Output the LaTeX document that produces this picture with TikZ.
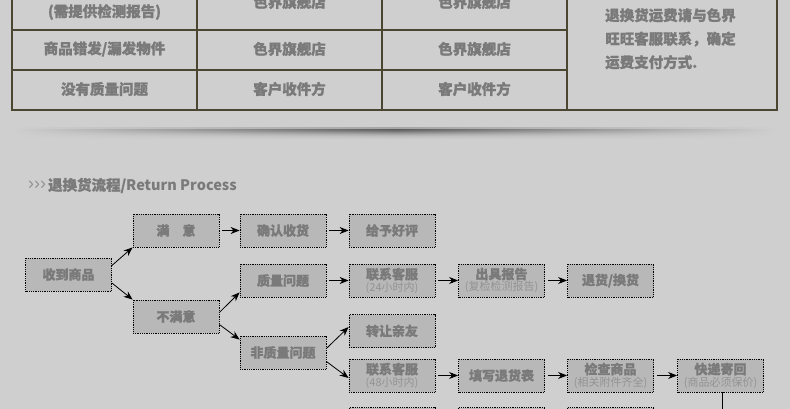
\documentclass[tikz,border=0pt]{standalone}
\usepackage{fontspec}
\setmainfont{Liberation Sans}
\newfontfamily\cjk{Noto Sans CJK SC}[BoldFeatures={FakeBold=1.2}]
\usepackage{tikz}
\usetikzlibrary{arrows.meta}
\usetikzlibrary{fadings}
\definecolor{bggray}{HTML}{CFCFCF}
\definecolor{boxgray}{HTML}{B8B8B8}
\definecolor{txtgray}{HTML}{7A7A7A}
\definecolor{subgray}{HTML}{939393}
\definecolor{rulebrown}{HTML}{4A4632}
\tikzfading[name=fade sides, left color=transparent!100, right color=transparent!100, middle color=transparent!0]
\tikzset{
  flowbox/.style={draw=black, densely dotted, line width=0.8pt, fill=boxgray,
    minimum width=86pt, minimum height=33pt, inner sep=0pt, align=center,
    text=txtgray, font=\cjk\bfseries\fontsize{13}{13.5}\selectfont},
  flowarrow/.style={-{Stealth[length=9pt,width=7pt]}, line width=0.8pt},
  cell/.style={text=txtgray, font=\cjk\bfseries\fontsize{14.5}{16}\selectfont},
  tablerule/.style={rulebrown, line width=1.3pt},
}
\newcommand{\subline}[1]{\\[-1.5pt]{\mdseries\fontsize{11}{12}\selectfont\color{subgray}#1}}
\begin{document}
\begin{tikzpicture}[x=1pt,y=-1pt]
        \useasboundingbox (0,0) rectangle (790,409);
        \fill[bggray] (0,0) rectangle (790,409);
        % table
        \draw[tablerule] (12,0) -- (12,110) -- (777,110) -- (777,0);
        \draw[tablerule] (197,0) -- (197,110) (382,0) -- (382,110) (567,0) -- (567,110);
        \draw[tablerule] (12,30) -- (567,30) (12,70) -- (567,70);
        \node[cell] (r1c1) at (104.5,12) {(需提供检测报告)};
        \node[cell] (r1c2) at (289.5,2) {色界旗舰店};
        \node[cell] (r1c3) at (474.5,2) {色界旗舰店};
        \node[cell] (r2c1) at (104.5,49) {商品错发/漏发物件};
        \node[cell] (r2c2) at (289.5,49) {色界旗舰店};
        \node[cell] (r2c3) at (474.5,49) {色界旗舰店};
        \node[cell] (r3c1) at (104.5,89) {没有质量问题};
        \node[cell] (r3c2) at (289.5,89) {客户收件方};
        \node[cell] (r3c3) at (474.5,89) {客户收件方};
        \node[cell, anchor=north west, align=left, inner sep=0pt,
          font=\cjk\bfseries\fontsize{14.5}{23.5}\selectfont] (feenote) at (605,8)
          {退换货运费请与色界\\旺旺客服联系，确定\\运费支付方式.};
        % shadow under the table
        \foreach \i/\op in {0/0.55,1/0.5,2/0.42,3/0.34,4/0.26,5/0.19,6/0.13,7/0.08,8/0.05,9/0.03}
          \fill[black, opacity=\op, path fading=fade sides] (15,129+\i) rectangle (775,130+\i);
        \fill[black, opacity=0.2, path fading=fade sides] (15,127.5) rectangle (775,129);
        % title
        \node[anchor=west, inner sep=0pt, text=subgray, font=\fontsize{18}{18}\selectfont] (chev) at (28,185.5) {›››};
        \node[anchor=west, inner sep=0pt, text=txtgray, font=\cjk\bfseries\fontsize{14.5}{15}\selectfont] (title) at ([xshift=1.5pt]chev.east) {退换货流程/\itshape Return Process};
        % flow chart
        \node[flowbox] (receive) at (68.5,274.5) {收到商品};
        \node[flowbox] (ok) at (176,230.5) {满\quad 意};
        \node[flowbox] (confirm) at (283,230.5) {确认收货};
        \node[flowbox] (praise) at (392,230.5) {给予好评};
        \node[flowbox] (notok) at (176,316.5) {不满意};
        \node[flowbox] (quality) at (283,280.5) {质量问题};
        \node[flowbox] (contacta) at (392,280.5) {联系客服\subline{(24小时内)}};
        \node[flowbox] (report) at (501.5,280.5) {出具报告\subline{(复检检测报告)}};
        \node[flowbox] (swap) at (610.5,280.5) {退货/换货};
        \node[flowbox] (nonquality) at (283,352.5) {非质量问题};
        \node[flowbox] (friend) at (392,331) {转让亲友};
        \node[flowbox] (contactb) at (392,375.5) {联系客服\subline{(48小时内)}};
        \node[flowbox] (form) at (501.5,375.5) {填写退货表};
        \node[flowbox] (check) at (610.5,375.5) {检查商品\subline{(相关附件齐全)}};
        \node[flowbox] (ship) at (720.5,375.5) {快递寄回\subline{(商品必须保价)}};
        \node[flowbox] (nexta) at (392,424) {};
        \node[flowbox] (nextb) at (501.5,424) {};
        \node[flowbox] (nextc) at (610.5,424) {};
        \coordinate (shipdown) at (722,409);
        \draw[line width=0.8pt] ([xshift=1.5pt]ship.south) -- (shipdown);

        \draw[flowarrow] ([yshift=9pt]receive.east) -- (ok.south west);
        \draw[flowarrow] ([yshift=-8.5pt]receive.east) -- (notok.north west);
        \draw[flowarrow, shorten <=3pt] (ok) -- (confirm);
        \draw[flowarrow, shorten <=3pt] (confirm) -- (praise);
        \draw[flowarrow] ([yshift=4pt]notok.east) -- ([yshift=5pt]quality.south west);
        \draw[flowarrow] ([yshift=-8pt]notok.east) -- ([yshift=-4pt]nonquality.north west);
        \draw[flowarrow, shorten <=3pt] (quality) -- (contacta);
        \draw[flowarrow, shorten <=3pt] (contacta) -- (report);
        \draw[flowarrow, shorten <=3pt] (report) -- (swap);
        \draw[flowarrow] ([yshift=4pt]nonquality.east) -- ([yshift=4pt]friend.west);
        \draw[flowarrow] ([yshift=-9pt]nonquality.east) -- ([yshift=-2.5pt]contactb.west);
        \draw[flowarrow, shorten <=3pt] (contactb) -- (form);
        \draw[flowarrow, shorten <=3pt] (form) -- (check);
        \draw[flowarrow, shorten <=3pt] (check) -- (ship);
\end{tikzpicture}
\end{document}
